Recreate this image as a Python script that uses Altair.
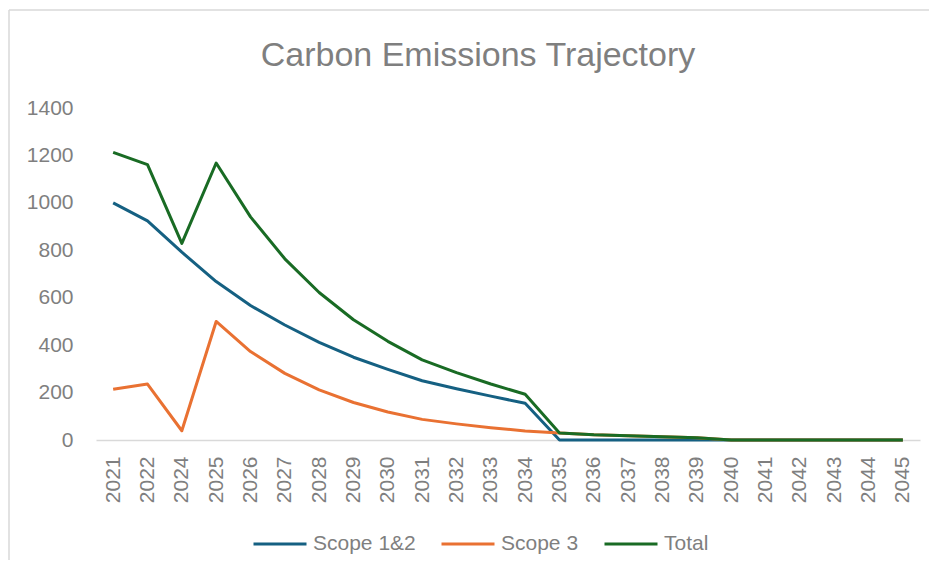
import altair as alt
import pandas as pd

years = ["2021", "2022", "2024", "2025", "2026", "2027", "2028", "2029", "2030",
         "2031", "2032", "2033", "2034", "2035", "2036", "2037", "2038", "2039",
         "2040", "2041", "2042", "2043", "2044", "2045"]
scope12 = [1000, 924, 792, 668, 567, 485, 412, 349, 298, 250, 216, 185, 155,
           0, 0, 0, 0, 0, 0, 0, 0, 0, 0, 0]
scope3 = [214, 236, 39, 500, 373, 281, 211, 158, 118, 87, 68, 52, 38,
          30, 22, 18, 14, 10, 0, 0, 0, 0, 0, 0]
total = [1213, 1161, 829, 1168, 941, 764, 622, 507, 416, 338, 284, 236, 193,
         30, 22, 18, 14, 10, 0, 0, 0, 0, 0, 0]
series_names = ["Scope 1&2", "Scope 3", "Total"]
colors = ["#156082", "#E97132", "#196B24"]
y_ticks = [0, 200, 400, 600, 800, 1000, 1200, 1400]
title_text = "Carbon Emissions Trajectory"

rows = []
for name, vals in zip(series_names, [scope12, scope3, total]):
    for yr, v in zip(years, vals):
        rows.append({"Year": yr, "Series": name, "Value": v})
df = pd.DataFrame(rows)

FONT = "Liberation Sans"
GRAY = "#7f7f7f"
LIGHT = "#d9d9d9"

lines = alt.Chart(df).mark_line(strokeWidth=3, strokeJoin="round").encode(
    x=alt.X("Year:N", sort=years, scale=alt.Scale(padding=0.5),
            axis=alt.Axis(title=None, labelAngle=-90, ticks=False,
                          domainColor=LIGHT, domainWidth=1.5, labelPadding=16,
                          labelFontSize=21, labelColor=GRAY, labelFont=FONT)),
    y=alt.Y("Value:Q", scale=alt.Scale(domain=[0, 1400], nice=False),
            axis=alt.Axis(title=None, values=y_ticks, format="d", domain=False,
                          ticks=False, grid=False, labelPadding=23, labelFontSize=21,
                          labelColor=GRAY, labelFont=FONT)),
    color=alt.Color("Series:N", scale=alt.Scale(domain=series_names, range=colors),
                    legend=alt.Legend(title=None, orient="none", legendX=156, legendY=408,
                                      direction="horizontal", symbolType="stroke",
                                      symbolSize=2809, symbolStrokeWidth=3,
                                      labelFontSize=21, labelColor=GRAY, labelFont=FONT,
                                      columnPadding=19, labelOffset=5, padding=0)),
)

one = pd.DataFrame({"k": [0]})
left_border = alt.Chart(one).mark_rule(stroke=LIGHT, strokeWidth=1.5, clip=False).encode(
    x=alt.value(-87), y=alt.value(-98), y2=alt.value(452))
top_border = alt.Chart(one).mark_rule(stroke=LIGHT, strokeWidth=1.5, clip=False).encode(
    x=alt.value(-87), x2=alt.value(835), y=alt.value(-98))
title = alt.Chart(one).mark_text(text=title_text, font=FONT, fontSize=34, color=GRAY,
                                 align="center", baseline="alphabetic").encode(
    x=alt.value(382), y=alt.value(-42))

chart = alt.layer(left_border, top_border, title, lines).properties(
    width=824, height=332,
    autosize=alt.AutoSizeParams(type="none"),
    padding={"left": 88, "top": 100, "right": 9, "bottom": 128},
).configure_view(stroke=None)

chart.save("out.html", embed_options={"renderer": "svg", "actions": False})
